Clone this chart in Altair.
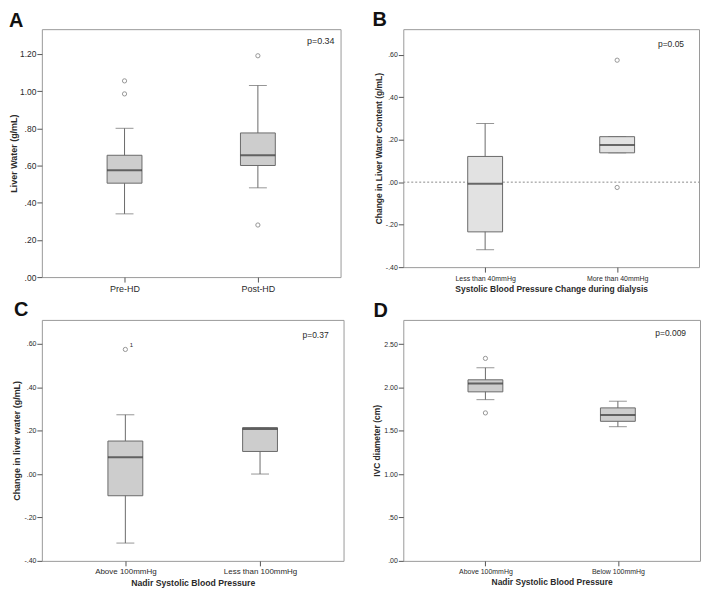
import altair as alt
import pandas as pd

# ---------------- Panel A ----------------
A_groups = ["Pre-HD", "Post-HD"]
A_low = [0.34, 0.48]
A_q1 = [0.505, 0.60]
A_med = [0.575, 0.655]
A_q3 = [0.655, 0.775]
A_high = [0.80, 1.03]
A_out_group = ["Pre-HD", "Pre-HD", "Post-HD", "Post-HD"]
A_out_value = [0.985, 1.055, 1.19, 0.28]
A_out_label = ["", "", "", ""]
A_yticks = [0, 0.2, 0.4, 0.6, 0.8, 1.0, 1.2]

# ---------------- Panel B ----------------
B_groups = ["Less than 40mmHg", "More than 40mmHg"]
B_low = [-0.318, 0.138]
B_q1 = [-0.234, 0.138]
B_med = [-0.008, 0.175]
B_q3 = [0.121, 0.214]
B_high = [0.276, 0.214]
B_out_group = ["More than 40mmHg", "More than 40mmHg"]
B_out_value = [0.574, -0.025]
B_out_label = ["", ""]
B_yticks = [-0.4, -0.2, 0, 0.2, 0.4, 0.6]
B_reference = [0.0]

# ---------------- Panel C ----------------
C_groups = ["Above 100mmHg", "Less than 100mmHg"]
C_low = [-0.318, 0.0]
C_q1 = [-0.10, 0.104]
C_med = [0.077, 0.208]
C_q3 = [0.152, 0.214]
C_high = [0.273, 0.214]
C_out_group = ["Above 100mmHg"]
C_out_value = [0.574]
C_out_label = ["1"]
C_yticks = [-0.4, -0.2, 0, 0.2, 0.4, 0.6]

# ---------------- Panel D ----------------
D_groups = ["Above 100mmHg", "Below 100mmHg"]
D_low = [1.86, 1.548]
D_q1 = [1.95, 1.61]
D_med = [2.046, 1.684]
D_q3 = [2.089, 1.765]
D_high = [2.228, 1.842]
D_out_group = ["Above 100mmHg", "Above 100mmHg"]
D_out_value = [2.336, 1.707]
D_out_label = ["", ""]
D_yticks = [0, 0.5, 1.0, 1.5, 2.0, 2.5]

LABEL_EXPR = ("abs(datum.value) < 1 ? (datum.value < 0 ? '-' : '') + "
              "substring(format(abs(datum.value), '.2f'), 1) : format(datum.value, '.2f')")

LINE = "#6a6a6a"
TXT = "#2a2a2a"
LETTER_SIZE = 20


def panel(letter, groups, low, q1, med, q3, high, out_g, out_v, out_lab, yticks,
          ydom, ytitle, xtitle, pval, fill, w, h, fs_xlab, fs_ylab, fs_ytitle,
          fs_xtitle, fs_p, p_right, p_top, letter_dx, letter_dy, ref_vals=None,
          title_pad=2):
    box = pd.DataFrame({"group": groups, "low": low, "q1": q1, "med": med,
                        "q3": q3, "high": high})
    outs = pd.DataFrame({"group": out_g, "value": out_v, "label": out_lab})
    xscale = alt.Scale(type="point", domain=groups, padding=0.62)
    yscale = alt.Scale(domain=ydom, nice=False, zero=False)
    xaxis = alt.Axis(labelAngle=0, grid=False, domain=False, tickSize=5,
                     tickColor="#555555", labelFontSize=fs_xlab, labelColor=TXT,
                     labelPadding=2, title=xtitle, titleFontSize=fs_xtitle,
                     titleFontWeight="bold", titleColor=TXT, titlePadding=3)
    yaxis = alt.Axis(values=yticks, labelExpr=LABEL_EXPR, grid=False, domain=False,
                     tickSize=5, tickColor="#555555", labelFontSize=fs_ylab,
                     labelColor=TXT, labelPadding=1, title=ytitle,
                     titleFontSize=fs_ytitle, titleFontWeight="bold",
                     titleColor=TXT, titlePadding=title_pad)
    x = alt.X("group:N", scale=xscale, axis=xaxis, sort=groups)

    layers = []
    base = alt.Chart(box)
    layers.append(base.mark_rule(color=LINE, strokeWidth=1).encode(
        x=x, y=alt.Y("low:Q", scale=yscale, axis=yaxis), y2="high:Q"))
    if ref_vals is not None:
        layers.append(
            alt.Chart(pd.DataFrame({"ref": ref_vals}))
            .mark_rule(color="#8a8a8a", strokeDash=[2, 2], strokeWidth=1)
            .encode(y=alt.Y("ref:Q", scale=yscale, axis=yaxis),
                    x=alt.value(0), x2=alt.value(w))
        )
    layers.append(base.mark_tick(color=LINE, size=18, thickness=1).encode(
        x=x, y=alt.Y("low:Q", scale=yscale, axis=yaxis)))
    layers.append(base.mark_tick(color=LINE, size=18, thickness=1).encode(
        x=x, y=alt.Y("high:Q", scale=yscale, axis=yaxis)))
    layers.append(base.mark_bar(size=35, fill=fill, stroke=LINE, strokeWidth=1).encode(
        x=x, y=alt.Y("q1:Q", scale=yscale, axis=yaxis), y2="q3:Q"))
    layers.append(base.mark_tick(color="#333333", size=35, thickness=2).encode(
        x=x, y=alt.Y("med:Q", scale=yscale, axis=yaxis)))
    layers.append(alt.Chart(outs).mark_point(shape="circle", size=18, filled=False,
                                             stroke=LINE, strokeWidth=1).encode(
        x=x, y=alt.Y("value:Q", scale=yscale, axis=yaxis)))
    layers.append(alt.Chart(outs).mark_text(dx=6, dy=-4, fontSize=6, color=TXT,
                                            align="center").encode(
        x=x, y=alt.Y("value:Q", scale=yscale, axis=yaxis), text="label:N"))
    layers.append(alt.Chart(pd.DataFrame({"t": [pval]})).mark_text(
        align="right", baseline="middle", fontSize=fs_p, color=TXT).encode(
        x=alt.value(w - p_right), y=alt.value(p_top), text="t:N"))
    layers.append(alt.Chart(pd.DataFrame({"t": [letter]})).mark_text(
        align="left", baseline="top", fontSize=LETTER_SIZE, fontWeight="bold",
        color="#111111").encode(
        x=alt.value(letter_dx), y=alt.value(letter_dy - 0.79 * LETTER_SIZE),
        text="t:N"))
    return alt.layer(*layers).properties(width=w, height=h)


pA = panel("A", A_groups, A_low, A_q1, A_med, A_q3, A_high, A_out_group, A_out_value,
           A_out_label, A_yticks, [0, 1.333], "Liver Water (g/mL)", None, "p=0.34",
           "#cdcdcd", 300, 249, 9, 8.5, 9, 9, 9, 6, 12, -33, -2, title_pad=1)
pB = panel("B", B_groups, B_low, B_q1, B_med, B_q3, B_high, B_out_group, B_out_value,
           B_out_label, B_yticks, [-0.4, 0.72], "Change in Liver Water Content (g/mL)",
           "Systolic Blood Pressure Change during dialysis", "p=0.05",
           "#e2e2e2", 297, 239, 7, 7, 8.5, 8.5, 8.5, 15, 15, -31, -3,
           ref_vals=B_reference)
pC = panel("C", C_groups, C_low, C_q1, C_med, C_q3, C_high, C_out_group, C_out_value,
           C_out_label, C_yticks, [-0.4, 0.71], "Change in liver water (g/mL)",
           "Nadir Systolic Blood Pressure", "p=0.37",
           "#cdcdcd", 303, 242, 8, 7, 9, 8.7, 8.5, 15, 15, -28, -4)
pD = panel("D", D_groups, D_low, D_q1, D_med, D_q3, D_high, D_out_group, D_out_value,
           D_out_label, D_yticks, [0, 2.78], "IVC diameter (cm)",
           "Nadir Systolic Blood Pressure", "p=0.009",
           "#cdcdcd", 298, 242, 7, 7, 8.5, 8.5, 8.5, 14, 13, -30, -3)

chart = alt.concat(
    pA, pB, pC, pD, columns=2,
    spacing=alt.RowColnumber(row=5, column=27),
    align=alt.RowColLayoutAlign(row="each", column="none"),
).properties(padding=0).configure(font="Liberation Sans").configure_view(
    stroke="#999999", strokeWidth=1)

chart.save("out.html", embed_options={"renderer": "svg", "actions": False})
